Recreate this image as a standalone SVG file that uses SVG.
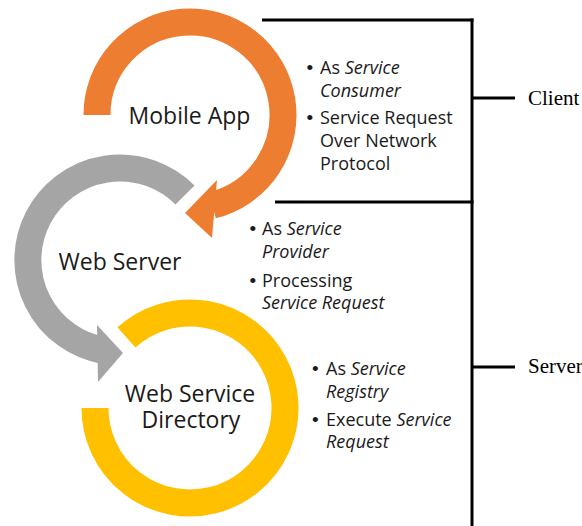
<svg xmlns="http://www.w3.org/2000/svg" width="582" height="526" viewBox="0 0 582 526">
<style>
.ring{fill:none;stroke-width:27;stroke-linecap:butt}
.lbl{font-family:"Open Sans","Liberation Sans",sans-serif;font-size:23px;fill:#1a1a1a;text-anchor:middle}
.b{font-family:"Open Sans","Liberation Sans",sans-serif;font-size:18px;fill:#1a1a1a}
.d{font-family:"Liberation Sans",Arial,sans-serif;font-size:19px;fill:#1a1a1a}
.i{font-style:italic}
.ln{stroke:#000;stroke-width:3;fill:none}
.side{font-family:"Liberation Serif","Times New Roman",serif;font-size:21px;fill:#000}
</style>
<rect width="582" height="526" fill="#fff"/>
<g id="connectors">
<line class="ln" x1="472" y1="18.5" x2="472" y2="526"/>
<line class="ln" x1="262" y1="20" x2="473.5" y2="20"/>
<line class="ln" x1="275" y1="202" x2="473.5" y2="202"/>
<line class="ln" x1="472" y1="98" x2="515" y2="98"/>
<line class="ln" x1="472" y1="367" x2="515" y2="367"/>
</g>
<g id="web-service-directory">
<path class="ring" stroke="#FFC000" d="M126.4 337.4 A95 95 0 1 1 95 408"/>
<text class="lbl" x="190" y="402">Web Service</text>
<text class="lbl" x="191" y="428">Directory</text>
</g>
<g id="web-server">
<path class="ring" stroke="#A5A5A5" d="M185 195 A92 92 0 1 0 104 350.6"/>
<polygon fill="#A5A5A5" points="97,325 123,353 98,382"/>
<text class="lbl" x="120" y="270">Web Server</text>
</g>
<g id="mobile-app">
<path class="ring" stroke="#ED7D31" d="M97 115 A93 93 0 1 1 212.5 205.2"/>
<polygon fill="#ED7D31" points="217,180 185,213 212,238"/>
<text class="lbl" x="189.5" y="124">Mobile App</text>
</g>
<g id="client-notes">
<text class="d" x="306.5" y="74">•</text>
<text class="b" x="320" y="74">As <tspan class="i">Service</tspan></text>
<text class="b i" x="320" y="97">Consumer</text>
<text class="d" x="306.5" y="124">•</text>
<text class="b" x="320" y="124">Service Request</text>
<text class="b" x="320" y="147">Over Network</text>
<text class="b" x="320" y="170">Protocol</text>
</g>
<g id="server-notes">
<text class="d" x="249.5" y="235">•</text>
<text class="b" x="262" y="235">As <tspan class="i">Service</tspan></text>
<text class="b i" x="262" y="258">Provider</text>
<text class="d" x="249.5" y="287">•</text>
<text class="b" x="262" y="287">Processing</text>
<text class="b i" x="262" y="309">Service Request</text>
</g>
<g id="directory-notes">
<text class="d" x="312" y="375">•</text>
<text class="b" x="326" y="375">As <tspan class="i">Service</tspan></text>
<text class="b i" x="326" y="398">Registry</text>
<text class="d" x="312" y="426">•</text>
<text class="b" x="326" y="426">Execute <tspan class="i">Service</tspan></text>
<text class="b i" x="326" y="448">Request</text>
</g>
<g id="client">
<text class="side" x="528" y="105">Client</text>
</g>
<g id="server">
<text class="side" x="528" y="373">Server</text>
</g>
</svg>
